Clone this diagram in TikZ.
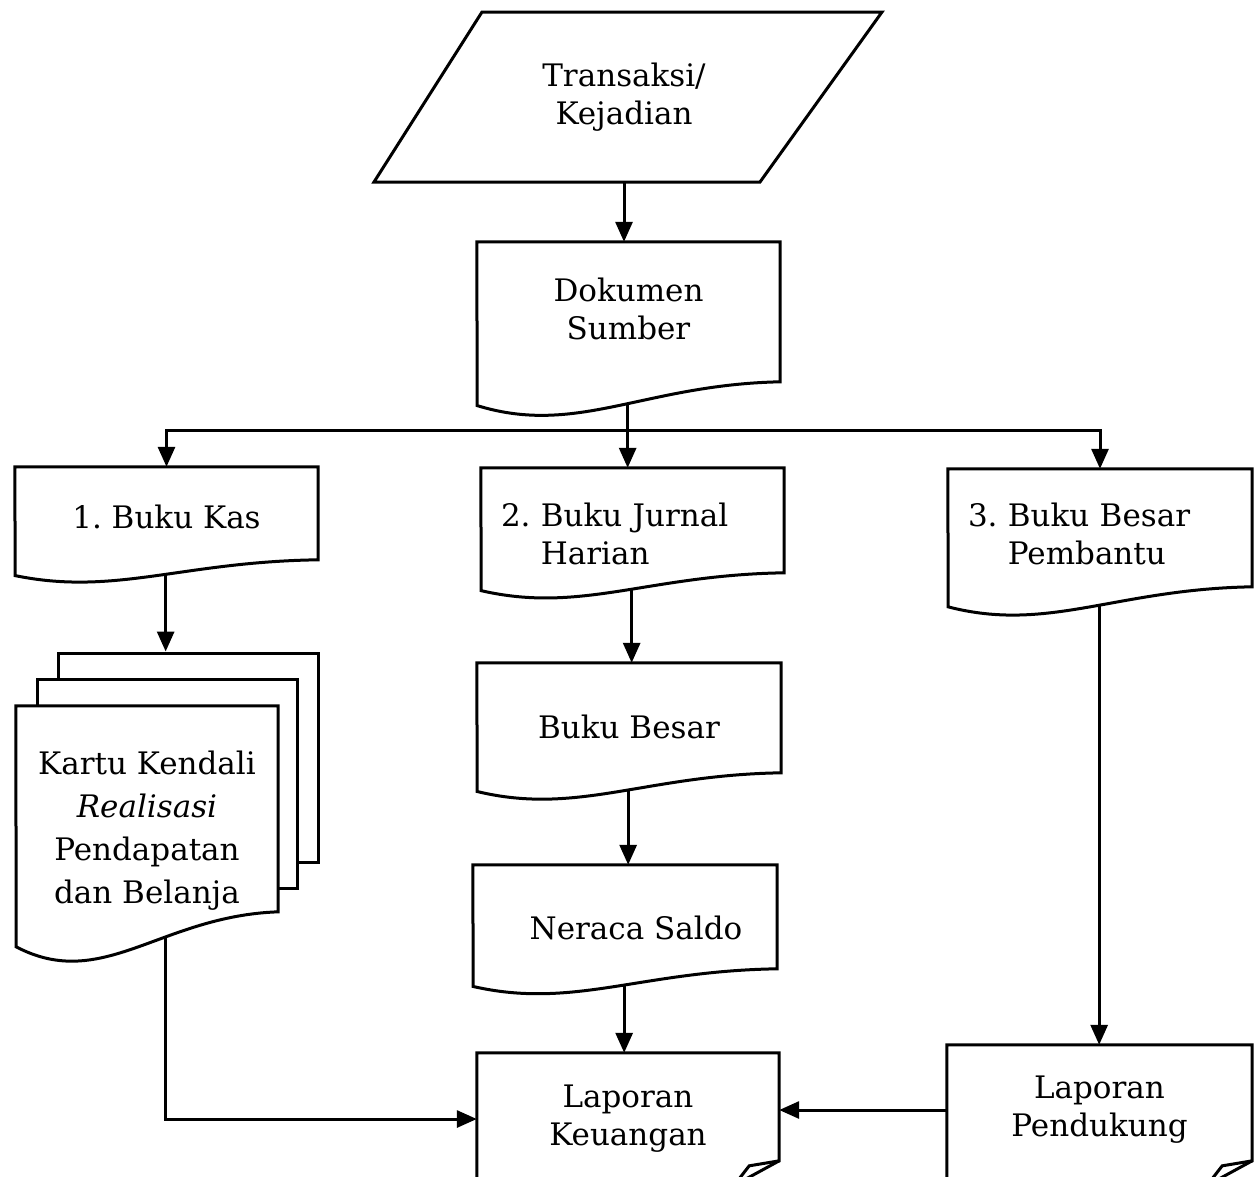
\documentclass[tikz,border=0pt]{standalone}
\usepackage{fontspec}
\setmainfont{DejaVu Serif}
\usetikzlibrary{arrows.meta}

\newcommand{\docout}[3]{%
  \draw[box] (#1.north west) -- (#1.north east) -- ++(0,#3)
    .. controls +(-0.45*#2,0.02*#3) and +(0.33*#2,0.22*#3) .. ++(-#2,0.17*#3)
    coordinate[pos=0.455] (#1-b) coordinate[pos=0.38] (#1-c) -- cycle;}
\newcommand{\lapout}[2]{%
  \draw[box] (#1.north west) ++(0,160) -- (#1.north west) -- (#1.north east)
    -- ++(0,#2) coordinate (#1-k) -- ++(-30,5) -- ++(-14,18);
  \draw[box] (#1-k) -- ++(-44,24);}

\begin{document}
\begin{tikzpicture}[x=1pt,y=-1pt,
    box/.style={line width=3pt},
    arr/.style={line width=3pt,-{Triangle[length=20pt,width=17pt]}},
    txt/.style={inner sep=0pt,align=center,font=\fontsize{31}{38}\selectfont}]
  \useasboundingbox (0,0) rectangle (1260,1176);
  \clip (0,0) rectangle (1260,1176);

  \node[txt,minimum width=300pt,minimum height=170pt] (trans) at (624,97) {Transaksi/\\Kejadian};
  \draw[box] (482,12) -- (882,12) -- (760,182) -- (374,182) -- cycle;

  \node[txt,minimum width=303pt,minimum height=134pt] (dok) at (628.5,309) {Dokumen\\Sumber};
  \docout{dok}{303}{140}

  \node[txt,minimum width=303pt,minimum height=100pt] (kas) at (166.5,517) {1.\ Buku Kas};
  \docout{kas}{303}{93}
  \node[txt,align=left,text width=263pt,minimum width=303pt,minimum height=132pt] (jurnal) at (632.5,534)
    {\mbox{2.\ Buku Jurnal}\\\hphantom{2.\ }Harian};
  \docout{jurnal}{303}{105}
  \node[txt,align=left,text width=264pt,minimum width=304pt,minimum height=130pt] (pemb) at (1100,534)
    {\mbox{3.\ Buku Besar}\\\hphantom{3.\ }Pembantu};
  \docout{pemb}{304}{118}

  \node[box,draw,fill=white,minimum width=260pt,minimum height=209pt] (kartu3) at (188,757.5) {};
  \node[box,draw,fill=white,minimum width=260pt,minimum height=209pt] (kartu2) at (167,783.5) {};
  \node[txt,fill=white,minimum width=262pt,minimum height=250pt,font=\fontsize{31}{43}\selectfont] (kartu) at (147,831)
    {Kartu Kendali\\\textit{Realisasi}\\Pendapatan\\dan Belanja};
  \docout{kartu}{262}{206}

  \node[txt,minimum width=304pt,minimum height=128pt] (besar) at (629,727) {Buku Besar};
  \docout{besar}{304}{110}
  \node[txt,minimum width=304pt,minimum height=126pt] (neraca) at (625,928) {\hspace{22pt}Neraca Saldo};
  \docout{neraca}{304}{104}

  \node[txt,minimum width=302pt,minimum height=132pt] (lapk) at (628,1119) {Laporan\\Keuangan};
  \lapout{lapk}{108}
  \node[txt,minimum width=305pt,minimum height=130pt] (lapp) at (1099.5,1110) {Laporan\\Pendukung};
  \lapout{lapp}{116}

  \draw[arr] (trans.south) -- (trans.south |- dok.north);
  \draw[box] (dok-b) -- ++(0,27) coordinate (fork);
  \draw[arr] (fork) -| (kas.north);
  \draw[arr] (fork) -| (pemb.north);
  \draw[arr] (fork) -- (fork |- jurnal.north);
  \draw[arr] (kas-b) -- (kas-b |- kartu3.north);
  \draw[arr] (jurnal-b) -- (jurnal-b |- besar.north);
  \draw[arr] (besar-b) -- (besar-b |- neraca.north);
  \draw[arr] (neraca-b) -- (neraca-b |- lapk.north);
  \draw[arr] (pemb-b) -- (pemb-b |- lapp.north);
  \draw[arr] (kartu-c) |- (lapk.west);
  \draw[arr] (lapp.west) -- (lapk.east |- lapp.west);
\end{tikzpicture}
\end{document}
